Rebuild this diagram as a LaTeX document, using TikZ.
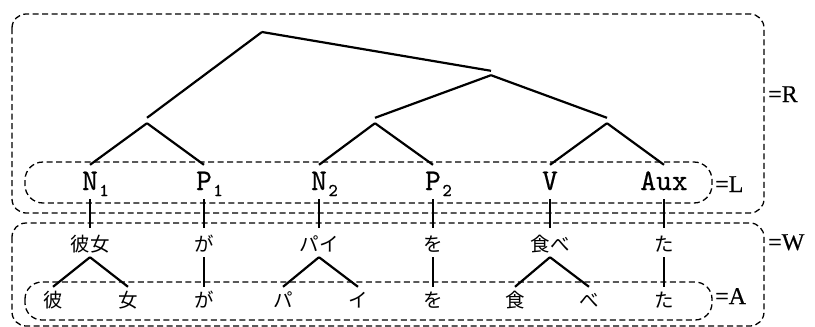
\documentclass[tikz,border=0pt]{standalone}
\usepackage{fontspec}
\newfontfamily\jp{Noto Sans CJK JP}
\newfontfamily\lab{lmmono10-regular.otf}[FakeBold=0.5]
\newfontfamily\tagfont{Liberation Serif}[FakeBold=0.3]
\newcommand\catsub[1]{\rlap{\kern1.5pt\raisebox{-6pt}{\fontsize{18}{18}\selectfont#1}}}
\tikzset{
  branch/.style={line width=2.2pt},
  region/.style={line width=1.3pt, dash pattern=on 6pt off 3.5pt},
  cat/.style={font=\lab\fontsize{30}{30}\selectfont, anchor=base,
    inner xsep=0pt, inner ysep=7pt, text height=18pt, text depth=2pt},
  word/.style={font=\jp\fontsize{19.5}{19.5}\selectfont, anchor=base,
    inner xsep=0pt, inner ysep=6pt, text height=17pt, text depth=0pt},
  char/.style={word, inner ysep=3pt},
  apex/.style={inner sep=0pt, minimum width=0pt, minimum height=#1},
  tag/.style={font=\tagfont\fontsize{24}{24}\selectfont, anchor=base west, inner sep=0pt},
}
\begin{document}
\begin{tikzpicture}[x=1pt,y=-1pt]
\useasboundingbox (0,0) rectangle (815,327);

% dashed regions
\draw[region, rounded corners=14pt] (12,14) rectangle (764,213);
\draw[region, rounded corners=18pt] (25,162) rectangle (712,203);
\draw[region, rounded corners=14pt] (12,223) rectangle (764,326);
\draw[region, rounded corners=17pt] (25,282) rectangle (712,320);

% tree skeleton
\coordinate (root) at (262,32);
\node[apex=5pt] (np1) at (147,120.5) {};
\node[apex=4pt] (vp0) at (491,73) {};
\node[apex=5pt] (np2) at (375,120.5) {};
\node[apex=5pt] (vp) at (607,120.5) {};

% categories
\node[cat] (n1) at (90,190) {N\catsub{1}};
\node[cat] (p1) at (204,190) {P\catsub{1}};
\node[cat] (n2) at (319,190) {N\catsub{2}};
\node[cat] (p2) at (433,190) {P\catsub{2}};
\node[cat] (v) at (550,190) {V};
\node[cat] (aux) at (664,190) {Aux};

% words
\node[word] (w1) at (90,251) {彼女};
\node[word] (w2) at (204,251) {が};
\node[word] (w3) at (319,251) {パイ};
\node[word] (w4) at (433,251) {を};
\node[word] (w5) at (550,251) {食べ};
\node[word] (w6) at (664,251) {た};

% characters
\node[char] (c1) at (53,307) {彼};
\node[char] (c2) at (128,307) {女};
\node[char] (c3) at (204,307) {が};
\node[char] (c4) at (283,307) {パ};
\node[char] (c5) at (358,307) {イ};
\node[char] (c6) at (433,307) {を};
\node[char] (c7) at (515,307) {食};
\node[char] (c8) at (589,307) {べ};
\node[char] (c9) at (664,307) {た};

% branches
\draw[branch] (root) -- (np1.north) (root) -- (vp0.north);
\draw[branch] (vp0.south) -- (np2.north) (vp0.south) -- (vp.north);
\draw[branch] (np1.south) -- (n1.north) (np1.south) -- (p1.north);
\draw[branch] (np2.south) -- (n2.north) (np2.south) -- (p2.north);
\draw[branch] (vp.south) -- (v.north) (vp.south) -- (aux.north);

\draw[branch] (n1.south) -- (w1.north) (p1.south) -- (w2.north)
  (n2.south) -- (w3.north) (p2.south) -- (w4.north)
  (v.south) -- (w5.north) (aux.south) -- (w6.north);

\draw[branch] (w1.south) -- (c1.north) (w1.south) -- (c2.north);
\draw[branch] (w2.south) -- (c3.north);
\draw[branch] (w3.south) -- (c4.north) (w3.south) -- (c5.north);
\draw[branch] (w4.south) -- (c6.north);
\draw[branch] (w5.south) -- (c7.north) (w5.south) -- (c8.north);
\draw[branch] (w6.south) -- (c9.north);

% region tags
\node[tag] (tR) at (768,102) {=R};
\node[tag] (tL) at (715,192) {=L};
\node[tag] (tW) at (768,250) {=W};
\node[tag] (tA) at (715,304) {=A};
\end{tikzpicture}
\end{document}
